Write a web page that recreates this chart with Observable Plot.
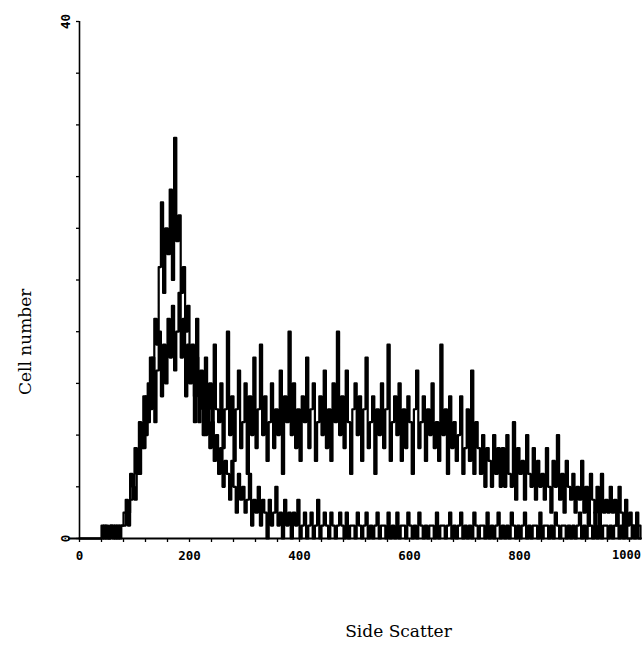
<!DOCTYPE html>
<html>
<head>
<meta charset="utf-8">
<script src="https://cdn.jsdelivr.net/npm/d3@7"></script>
<script src="https://cdn.jsdelivr.net/npm/@observablehq/plot@0.6"></script>
<style>
  html, body { margin: 0; padding: 0; background: #fff; }
  #chart svg { display: block; }
</style>
</head>
<body>
<div id="chart"></div>
<script>
// Channel start of each 4-channel bin (0 .. 1020)
const channels = d3.range(0, 1021, 4);

// Broad population (plateau out to ~650, slow decline)
const seriesBroad = [
  0,0,0,0,0,0,0,0,0,0,1,0,1,0,1,1,
  0,1,0,1,2,3,2,5,4,7,5,9,7,11,8,12,
  10,14,9,13,16,11,15,12,17,14,18,13,16,19,14,17,
  11,15,12,14,9,17,11,13,8,14,10,12,8,15,10,9,
  12,7,10,16,8,11,6,10,13,7,9,12,5,11,8,14,
  7,10,15,8,11,6,9,12,7,10,8,13,5,11,9,16,
  8,12,7,10,6,11,9,14,7,10,12,6,9,11,8,13,
  7,10,6,12,9,16,8,11,7,13,9,5,10,12,8,11,
  6,10,14,7,9,11,5,10,8,12,7,10,15,6,9,11,
  8,12,6,10,7,11,9,5,10,13,7,9,11,6,10,8,
  12,7,9,6,15,8,10,5,11,7,9,6,8,11,5,7,
  10,6,13,5,9,7,5,8,4,7,6,4,8,5,7,4,
  7,4,8,5,4,9,3,7,5,6,3,8,5,4,7,3,
  6,4,5,3,7,4,2,6,4,8,3,5,2,6,4,3,
  5,2,4,3,6,2,4,1,5,3,2,4,1,5,2,3,
  2,4,2,3,1,4,2,1,3,1,2,1,1,2,1,0
];

// Narrow population (sharp peak near 170, low tail)
const seriesNarrow = [
  0,0,0,0,0,0,0,0,0,0,0,1,0,0,1,0,
  1,0,1,1,1,2,1,3,4,3,6,5,8,7,11,9,
  14,12,17,15,21,26,19,24,22,27,20,31,23,25,19,21,
  16,18,13,15,11,14,9,12,10,8,11,7,9,6,8,5,
  7,4,6,5,3,6,4,2,5,3,4,2,3,5,1,3,
  2,4,1,3,2,0,3,1,2,4,1,2,0,3,1,2,
  0,2,1,3,0,1,2,0,1,2,0,1,3,0,1,2,
  1,0,2,1,0,1,2,1,0,2,0,1,1,0,2,1,
  0,1,2,0,1,0,1,2,0,1,1,0,2,0,1,0,
  2,0,1,1,0,2,1,0,1,0,2,1,0,1,0,1,
  1,0,2,0,1,1,0,1,2,0,1,0,1,2,0,1,
  0,1,0,2,1,0,1,1,0,2,0,1,0,1,2,0,
  1,0,1,0,2,1,0,1,0,1,2,0,1,0,1,1,
  0,2,0,1,1,0,1,0,2,1,0,1,1,0,1,0,
  1,0,1,2,0,1,0,1,1,0,2,0,1,0,1,1,
  0,1,0,1,2,0,1,0,1,0,0,1,0,1,0,0
];

const xTicks = d3.range(0, 1001, 40);
const xLabels = [0, 200, 400, 600, 800];
const xLastLabel = [1000];
const yTicks = d3.range(0, 41, 4);
const yLabels = [0, 40];

const broad = channels.map((c, i) => ({ch: c, n: seriesBroad[i]}));
const narrow = channels.map((c, i) => ({ch: c, n: seriesNarrow[i]}));

const mono = "DejaVu Sans Mono, monospace";
const serif = "DejaVu Serif, serif";

const chart = Plot.plot({
  width: 642,
  height: 647,
  marginLeft: 79,
  marginRight: 13,
  marginTop: 21,
  marginBottom: 109,
  x: {domain: [0, 1000], axis: null},
  y: {domain: [0, 40], axis: null},
  style: {background: "#fff", color: "#000"},
  marks: [
    Plot.line(broad, {x: "ch", y: "n", curve: "step-after", stroke: "#000", strokeWidth: 2.2}),
    Plot.line(narrow, {x: "ch", y: "n", curve: "step-after", stroke: "#000", strokeWidth: 2.2}),
    Plot.ruleY([0], {x1: () => -20, x2: () => 1023, stroke: "#000", strokeWidth: 1.8}),
    Plot.ruleX([0], {y1: () => 0, y2: () => 40, stroke: "#000", strokeWidth: 1.6}),
    Plot.axisX({ticks: xTicks, tickSize: 4, tickFormat: () => "", label: null, strokeWidth: 1.3}),
    Plot.axisY({ticks: yTicks, tickSize: 3, tickFormat: () => "", label: null, strokeWidth: 1.3}),
    Plot.text(xLabels, {x: d => d, y: () => 0, dy: 17, text: d => String(d), fontFamily: mono, fontSize: 12.5, fontWeight: "bold", fill: "#000"}),
    Plot.text(xLastLabel, {x: d => d, y: () => 0, dy: 17, dx: -3, text: d => String(d), fontFamily: mono, fontSize: 12, fontWeight: "bold", fill: "#000"}),
    Plot.text(yLabels, {x: () => 0, y: d => d, dx: -14, rotate: -90, text: d => String(d), fontFamily: mono, fontSize: 12.5, fontWeight: "bold", fill: "#000"}),
    Plot.text(["Side Scatter"], {frameAnchor: "bottom", dx: 44, dy: 98, text: d => d, fontFamily: serif, fontSize: 17, fill: "#000"}),
    Plot.text(["Cell number"], {frameAnchor: "left", dx: -54, dy: 115, rotate: -90, text: d => d, fontFamily: serif, fontSize: 17, fill: "#000"})
  ]
});
document.getElementById("chart").appendChild(chart);
</script>
</body>
</html>
